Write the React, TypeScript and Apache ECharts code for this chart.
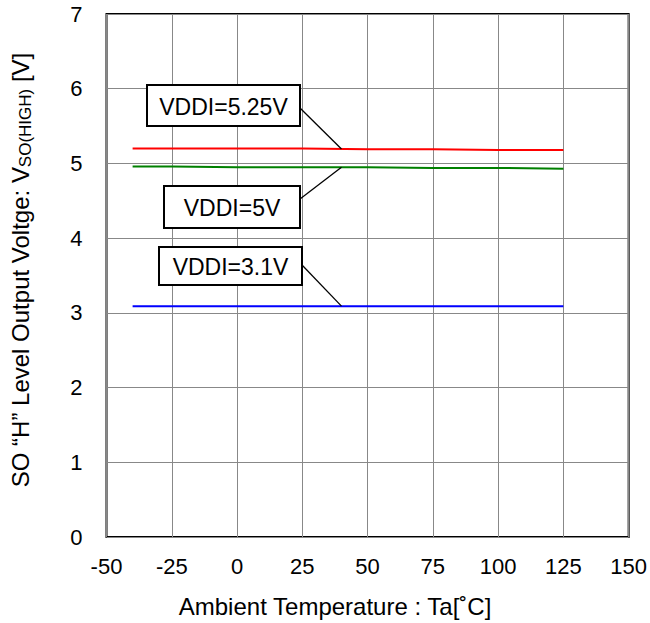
import React, { useEffect, useRef } from "react";
import * as echarts from "echarts";

const temps = [-40, -25, 0, 25, 50, 75, 100, 125];
const vddi525 = [5.2, 5.2, 5.2, 5.2, 5.19, 5.19, 5.18, 5.18];
const vddi5 = [4.96, 4.96, 4.95, 4.95, 4.95, 4.94, 4.94, 4.93];
const vddi31 = [3.09, 3.09, 3.09, 3.09, 3.09, 3.09, 3.09, 3.09];
const seriesNames = ["VDDI=5.25V", "VDDI=5V", "VDDI=3.1V"];
const seriesColors = ["#ff0000", "#008000", "#0000ff"];
const xTicks = { min: -50, max: 150, interval: 25 };
const yTicks = { min: 0, max: 7, interval: 1 };
const calloutAt = 40;

const FONT = "'Liberation Sans', Arial, sans-serif";

export default function App() {
  const ref = useRef<HTMLDivElement>(null);
  useEffect(() => {
    if (!ref.current) return;
    const chart = echarts.init(ref.current, null, { renderer: "svg" });
    const all = [vddi525, vddi5, vddi31];
    chart.setOption({
      animation: false,
      textStyle: { fontFamily: FONT },
      grid: {
        left: 104,
        top: 14,
        right: 21,
        bottom: 86,
        show: true,
        borderColor: "#000",
        borderWidth: 2,
        backgroundColor: "#fff",
      },
      xAxis: {
        type: "value",
        min: xTicks.min,
        max: xTicks.max,
        interval: xTicks.interval,
        axisLine: { show: false },
        axisTick: { show: false },
        splitLine: { show: true, lineStyle: { color: "#888", width: 1 } },
        axisLabel: { color: "#000", fontSize: 22, margin: 18, fontFamily: FONT },
        name: "Ambient Temperature : Ta[˚C]",
        nameLocation: "middle",
        nameGap: 57,
        nameTextStyle: { color: "#000", fontSize: 24, fontFamily: FONT, padding: [0, 65, 0, 0] },
      },
      yAxis: {
        type: "value",
        min: yTicks.min,
        max: yTicks.max,
        interval: yTicks.interval,
        axisLine: { show: false },
        axisTick: { show: false },
        splitLine: { show: true, lineStyle: { color: "#888", width: 1 } },
        axisLabel: { color: "#000", fontSize: 22, margin: 24, fontFamily: FONT },
        name: "{a|SO “H” Level Output Voltge: V}{s|SO(HIGH)}{a| [V]}",
        nameLocation: "middle",
        nameGap: 73,
        nameRotate: 90,
        nameTextStyle: {
          color: "#000",
          fontFamily: FONT,
          padding: [0, 0, 0, 11],
          rich: {
            a: { fontSize: 24, color: "#000", fontFamily: FONT },
            s: { fontSize: 17, color: "#000", fontFamily: FONT, verticalAlign: "bottom", padding: [10, 0, 0, 0] },
          },
        },
      },
      series: all.map((vals, i) => ({
        type: "line",
        name: seriesNames[i],
        data: temps.map((t, j) => [t, vals[j]]),
        showSymbol: false,
        lineStyle: { color: seriesColors[i], width: 2 },
        itemStyle: { color: seriesColors[i] },
        z: 3,
      })),
    });

    const boxes = [
      { x: 147, y: 85, w: 153, h: 41, ly: 108 },
      { x: 164, y: 186, w: 136, h: 42, ly: 199 },
      { x: 159, y: 247, w: 143, h: 38, ly: 265 },
    ];
    const graphics: any[] = [];
    boxes.forEach((b, i) => {
      const v = all[i][3] + (all[i][4] - all[i][3]) * ((calloutAt - temps[3]) / (temps[4] - temps[3]));
      const p = chart.convertToPixel({ gridIndex: 0 }, [calloutAt, v]) as number[];
      graphics.push({
        type: "line",
        shape: { x1: b.x + b.w, y1: b.ly, x2: p[0], y2: p[1] },
        style: { stroke: "#000", lineWidth: 1.3 },
        z: 10,
      });
      graphics.push({
        type: "rect",
        shape: { x: b.x, y: b.y, width: b.w, height: b.h },
        style: { fill: "#fff", stroke: "#000", lineWidth: 2 },
        z: 10,
      });
      graphics.push({
        type: "text",
        x: b.x + b.w / 2,
        y: b.y + b.h / 2 + 1,
        style: {
          text: seriesNames[i],
          fontSize: 23,
          fontFamily: FONT,
          fill: "#000",
          align: "center",
          verticalAlign: "middle",
        },
        z: 11,
      });
    });
    chart.setOption({ graphic: graphics });
    return () => chart.dispose();
  }, []);
  return <div ref={ref} style={{ width: 650, height: 623, position: "absolute", left: 0, top: 0 }} />;
}
